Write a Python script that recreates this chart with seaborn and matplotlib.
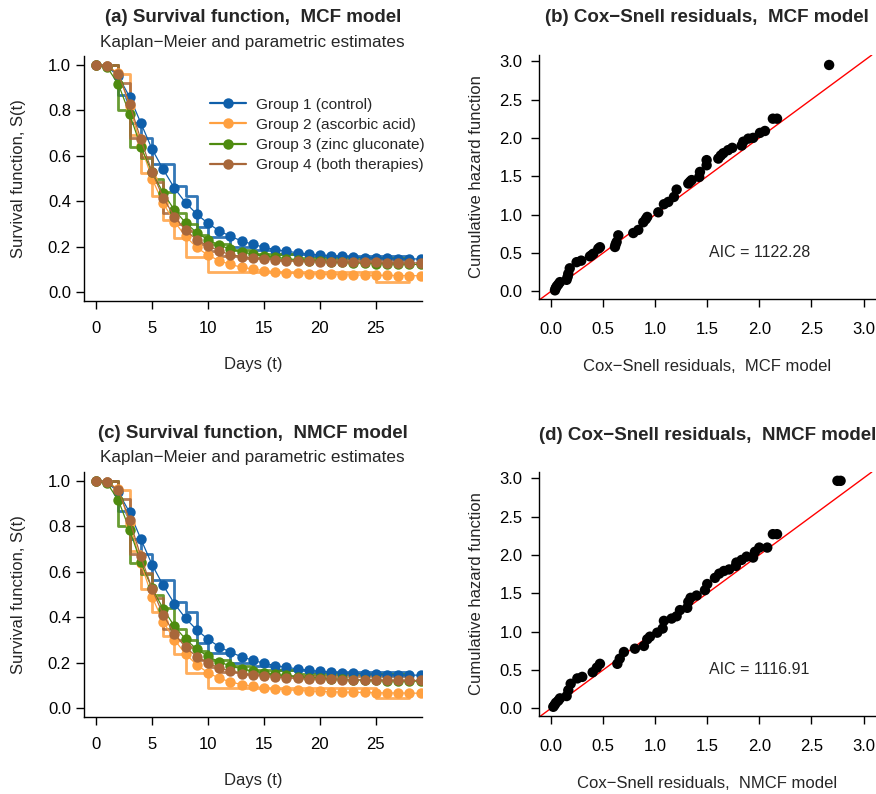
import matplotlib
matplotlib.use("Agg")
import matplotlib.pyplot as plt
from matplotlib.lines import Line2D
from matplotlib.ticker import FormatStrFormatter, MultipleLocator
import numpy as np
import pandas as pd
import seaborn as sns

# ---------------------------------------------------------------- data
GROUPS = ["Group 1 (control)", "Group 2 (ascorbic acid)",
          "Group 3 (zinc gluconate)", "Group 4 (both therapies)"]
COLORS = ["#0F5FAA", "#FFA040", "#4E8B0F", "#A8673A"]

DAYS = list(range(30))

# parametric survival estimates, MCF model
MCF_G1 = [1.0, 0.995, 0.95, 0.86, 0.745, 0.63, 0.54, 0.458, 0.393, 0.343, 0.302, 0.27,
          0.245, 0.225, 0.21, 0.197, 0.187, 0.179, 0.173, 0.167, 0.163, 0.16, 0.157,
          0.154, 0.151, 0.15, 0.148, 0.147, 0.146, 0.145]
MCF_G2 = [1.0, 0.995, 0.965, 0.82, 0.645, 0.50, 0.39, 0.31, 0.245, 0.196, 0.162, 0.138,
          0.121, 0.109, 0.101, 0.094, 0.089, 0.085, 0.082, 0.080, 0.078, 0.077, 0.076,
          0.075, 0.074, 0.073, 0.073, 0.072, 0.072, 0.071]
MCF_G3 = [1.0, 0.99, 0.915, 0.784, 0.64, 0.527, 0.437, 0.361, 0.305, 0.261, 0.23, 0.207,
          0.188, 0.177, 0.167, 0.159, 0.153, 0.147, 0.142, 0.138, 0.135, 0.132, 0.13,
          0.128, 0.126, 0.125, 0.124, 0.123, 0.122, 0.121]
MCF_G4 = [1.0, 0.995, 0.96, 0.83, 0.672, 0.53, 0.415, 0.332, 0.272, 0.23, 0.203, 0.181,
          0.164, 0.156, 0.149, 0.144, 0.141, 0.138, 0.137, 0.135, 0.134, 0.133, 0.132,
          0.131, 0.13, 0.13, 0.129, 0.129, 0.128, 0.128]

# parametric survival estimates, NMCF model
NMCF_G1 = [1.0, 0.995, 0.95, 0.862, 0.745, 0.632, 0.54, 0.46, 0.395, 0.344, 0.303, 0.27,
           0.245, 0.226, 0.21, 0.197, 0.187, 0.179, 0.172, 0.166, 0.162, 0.158, 0.155,
           0.152, 0.15, 0.148, 0.147, 0.146, 0.145, 0.144]
NMCF_G2 = [1.0, 0.995, 0.965, 0.815, 0.64, 0.49, 0.38, 0.30, 0.238, 0.19, 0.155, 0.131,
           0.115, 0.103, 0.095, 0.089, 0.084, 0.080, 0.077, 0.075, 0.073, 0.071, 0.070,
           0.069, 0.068, 0.067, 0.066, 0.066, 0.065, 0.065]
NMCF_G3 = [1.0, 0.99, 0.915, 0.785, 0.642, 0.528, 0.437, 0.36, 0.303, 0.259, 0.227, 0.203,
           0.185, 0.172, 0.162, 0.154, 0.148, 0.143, 0.138, 0.134, 0.131, 0.128, 0.126,
           0.124, 0.122, 0.121, 0.12, 0.119, 0.118, 0.118]
NMCF_G4 = [1.0, 0.995, 0.96, 0.828, 0.668, 0.525, 0.41, 0.327, 0.267, 0.226, 0.198, 0.177,
           0.162, 0.151, 0.144, 0.139, 0.135, 0.132, 0.13, 0.128, 0.127, 0.126, 0.125,
           0.124, 0.123, 0.123, 0.122, 0.122, 0.121, 0.121]

# Kaplan-Meier step functions (event day, survival after that day)
KM_G1_T = [0, 2, 3, 4, 5, 7, 8, 9, 10, 12, 14, 16, 19, 28]
KM_G1_S = [1.0, 0.87, 0.743, 0.68, 0.564, 0.467, 0.424, 0.288, 0.244, 0.20, 0.185,
           0.165, 0.157, 0.157]
KM_G2_T = [0, 2, 3, 4, 5, 6, 7, 8, 10, 25, 28]
KM_G2_S = [1.0, 0.96, 0.69, 0.523, 0.423, 0.317, 0.236, 0.152, 0.09, 0.045, 0.045]
KM_G3_T = [0, 2, 3, 4, 5, 6, 7, 8, 9, 10, 12, 14, 18, 28]
KM_G3_S = [1.0, 0.80, 0.64, 0.59, 0.50, 0.44, 0.347, 0.30, 0.25, 0.21, 0.185, 0.165,
           0.15, 0.15]
KM_G4_T = [0, 2, 3, 4, 5, 6, 7, 8, 9, 10, 11, 13, 16, 28]
KM_G4_S = [1.0, 0.92, 0.677, 0.596, 0.486, 0.35, 0.30, 0.27, 0.21, 0.18, 0.16, 0.15,
           0.14, 0.14]

# Cox-Snell residuals vs. cumulative hazard
CS_MCF_R = [0.038, 0.045, 0.055, 0.07, 0.086, 0.15, 0.16, 0.166, 0.18, 0.246, 0.29,
            0.374, 0.39, 0.406, 0.454, 0.47, 0.614, 0.62, 0.63, 0.646, 0.79, 0.838,
            0.886, 0.91, 0.924, 1.03, 1.084, 1.126, 1.18, 1.206, 1.318, 1.335, 1.35,
            1.423, 1.43, 1.494, 1.494, 1.606, 1.63, 1.654, 1.70, 1.74, 1.83, 1.846,
            1.894, 1.94, 2.006, 2.054, 2.13, 2.17, 2.67]
CS_MCF_H = [0.013, 0.04, 0.065, 0.09, 0.12, 0.15, 0.19, 0.23, 0.30, 0.38, 0.40, 0.456,
            0.47, 0.49, 0.556, 0.575, 0.578, 0.61, 0.643, 0.73, 0.76, 0.80, 0.90, 0.94,
            0.97, 1.03, 1.135, 1.165, 1.23, 1.326, 1.405, 1.43, 1.45, 1.49, 1.556,
            1.643, 1.71, 1.73, 1.77, 1.80, 1.84, 1.87, 1.90, 1.95, 1.99, 2.0, 2.065,
            2.09, 2.25, 2.25, 2.95]
CS_NMCF_R = [0.022, 0.035, 0.048, 0.07, 0.086, 0.15, 0.166, 0.189, 0.253, 0.30, 0.40,
             0.44, 0.47, 0.637, 0.66, 0.70, 0.806, 0.892, 0.924, 0.95, 1.02, 1.072,
             1.084, 1.158, 1.206, 1.238, 1.308, 1.318, 1.34, 1.398, 1.478, 1.50, 1.574,
             1.615, 1.66, 1.71, 1.775, 1.78, 1.83, 1.878, 1.94, 1.958, 2.0, 2.076,
             2.13, 2.17, 2.75, 2.78]
CS_NMCF_H = [0.02, 0.045, 0.073, 0.10, 0.13, 0.16, 0.235, 0.32, 0.39, 0.41, 0.47,
             0.53, 0.58, 0.58, 0.647, 0.734, 0.777, 0.813, 0.90, 0.934, 0.986, 1.04,
             1.14, 1.17, 1.20, 1.28, 1.31, 1.387, 1.44, 1.47, 1.54, 1.62, 1.70, 1.755,
             1.79, 1.81, 1.856, 1.90, 1.934, 1.977, 1.965, 2.04, 2.095, 2.095, 2.27,
             2.27, 2.965, 2.965]

AIC_MCF = "1122.28"
AIC_NMCF = "1116.91"

# ---------------------------------------------------------------- style
sns.set_style("ticks")
plt.rcParams["font.family"] = ["Liberation Sans", "DejaVu Sans"]
plt.rcParams["axes.linewidth"] = 1.0

W, H = 876, 794
fig = plt.figure(figsize=(W / 100, H / 100), dpi=100)


def rect(l, t, r, b):
    return [l / W, 1 - b / H, (r - l) / W, (b - t) / H]


def style_axes(ax, ypad, xpad):
    sns.despine(ax=ax)
    ax.tick_params(axis="both", direction="out", length=5.5, width=1.0,
                   labelsize=12, colors="black")
    ax.tick_params(axis="y", pad=ypad)
    ax.tick_params(axis="x", pad=xpad)
    for s in ("left", "bottom"):
        ax.spines[s].set_color("black")


def survival_frame(par_curves):
    rows = []
    for g, vals in zip(GROUPS, par_curves):
        for d, v in zip(DAYS, vals):
            rows.append((g, d, v))
    return pd.DataFrame(rows, columns=["group", "day", "surv"])


def km_frame():
    rows = []
    for g, ts, ss in zip(GROUPS, [KM_G1_T, KM_G2_T, KM_G3_T, KM_G4_T],
                         [KM_G1_S, KM_G2_S, KM_G3_S, KM_G4_S]):
        for t, s in zip(ts, ss):
            rows.append((g, t, s))
    return pd.DataFrame(rows, columns=["group", "day", "surv"])


def survival_panel(box, par_curves, title, legend):
    ax = fig.add_axes(rect(*box))
    pal = dict(zip(GROUPS, COLORS))
    sns.lineplot(data=km_frame(), x="day", y="surv", hue="group", hue_order=GROUPS,
                 palette=pal, drawstyle="steps-post", linewidth=2.0, alpha=0.85,
                 estimator=None, sort=False, legend=False, ax=ax, zorder=2)
    sns.lineplot(data=survival_frame(par_curves), x="day", y="surv", hue="group",
                 hue_order=GROUPS, palette=pal, linewidth=0.9, marker="o",
                 markersize=7.5, markeredgewidth=0, estimator=None, sort=False,
                 legend=False, ax=ax, zorder=3)
    ax.set_xlim(-1.12, 29.12)
    ax.set_ylim(-0.04, 1.04)
    ax.set_xticks([0, 5, 10, 15, 20, 25])
    ax.yaxis.set_major_locator(MultipleLocator(0.2))
    ax.yaxis.set_major_formatter(FormatStrFormatter("%.1f"))
    style_axes(ax, ypad=3.5, xpad=9)
    ax.set_xlabel("Days (t)", fontsize=12)
    ax.set_ylabel("Survival function, S(t)", fontsize=12)
    ax.xaxis.set_label_coords(0.5, -0.261)
    ax.xaxis.label.set_va("center")
    ax.yaxis.set_label_coords(-0.1935, 0.5)
    ax.yaxis.label.set_va("center")
    l, t, r, b = box
    fig.text(((l + r) / 2) / W, 1 - (t - 38) / H, title, ha="center", va="center",
             fontsize=13.5, fontweight="bold")
    fig.text(((l + r) / 2) / W, 1 - (t - 14) / H,
             "Kaplan\u2212Meier and parametric estimates", ha="center", va="center",
             fontsize=12.3)
    if legend:
        handles = [Line2D([], [], color=c, lw=1.6, marker="o", markersize=7.5,
                          markeredgewidth=0) for c in COLORS]
        ax.legend(handles, GROUPS, loc="upper left", bbox_to_anchor=(0.3737, 0.83),
                  frameon=False, fontsize=11.1, borderpad=0, borderaxespad=0,
                  handlelength=2.35, handletextpad=0.65, labelspacing=0.4)
    return ax


def coxsnell_panel(box, res, haz, aic, title, xlabel):
    ax = fig.add_axes(rect(*box))
    ax.axline((0, 0), (1, 1), color="red", linewidth=1.0, zorder=2)
    sns.scatterplot(x=res, y=haz, color="black", s=56, edgecolor="none", ax=ax,
                    zorder=3, legend=False)
    ax.set_xlim(-0.12, 3.12)
    ax.set_ylim(-0.10, 3.08)
    ax.xaxis.set_major_locator(MultipleLocator(0.5))
    ax.yaxis.set_major_locator(MultipleLocator(0.5))
    ax.xaxis.set_major_formatter(FormatStrFormatter("%.1f"))
    ax.yaxis.set_major_formatter(FormatStrFormatter("%.1f"))
    style_axes(ax, ypad=6, xpad=11)
    ax.text(2.0, 0.5, "AIC = " + aic, ha="center", va="center", fontsize=11.5)
    ax.set_xlabel(xlabel, fontsize=12)
    ax.set_ylabel("Cumulative hazard function", fontsize=12)
    ax.xaxis.set_label_coords(0.5, -0.2746)
    ax.xaxis.label.set_va("center")
    ax.yaxis.set_label_coords(-0.185, 0.5)
    ax.yaxis.label.set_va("center")
    l, t, r, b = box
    fig.text(((l + r) / 2) / W, 1 - (t - 37) / H, title, ha="center", va="center",
             fontsize=13.5, fontweight="bold")
    return ax


survival_panel((83.5, 56, 422, 301), [MCF_G1, MCF_G2, MCF_G3, MCF_G4],
               "(a) Survival function,  MCF model", legend=True)
coxsnell_panel((538.5, 55, 876, 299), CS_MCF_R, CS_MCF_H, AIC_MCF,
               "(b) Cox\u2212Snell residuals,  MCF model",
               "Cox\u2212Snell residuals,  MCF model")
survival_panel((83.5, 472, 422, 717), [NMCF_G1, NMCF_G2, NMCF_G3, NMCF_G4],
               "(c) Survival function,  NMCF model", legend=False)
coxsnell_panel((538.5, 472, 876, 716), CS_NMCF_R, CS_NMCF_H, AIC_NMCF,
               "(d) Cox\u2212Snell residuals,  NMCF model",
               "Cox\u2212Snell residuals,  NMCF model")

fig.savefig("out.png", dpi=100)
